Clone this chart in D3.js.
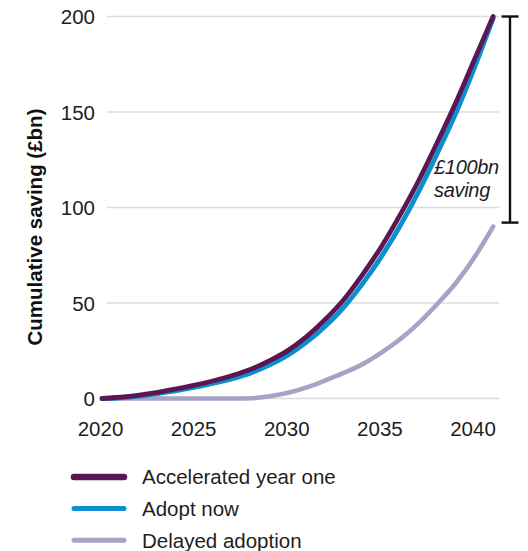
<!DOCTYPE html>
<html>
<head>
<meta charset="utf-8">
<script src="https://cdn.jsdelivr.net/npm/d3@7"></script>
<style>
  html, body { margin: 0; padding: 0; background: #fff; }
  svg { display: block; font-family: "Liberation Sans", Arial, Helvetica, sans-serif; }
</style>
</head>
<body>
<svg id="chart" width="528" height="551"></svg>
<script>
// Cumulative saving (£bn) by year under three adoption scenarios
const years = [2020, 2021, 2022, 2023, 2024, 2025, 2026, 2027, 2028, 2029, 2030,
               2031, 2032, 2033, 2034, 2035, 2036, 2037, 2038, 2039, 2040, 2041];
const acceleratedYearOne = [0, 0.7, 1.8, 3.2, 5, 7, 9.3, 12, 15.3, 19.8, 25.2,
                            32.5, 41.5, 52, 65, 79.5, 96, 114, 134, 155, 177.5, 200];
const adoptNow = [0, 0.4, 1.3, 2.6, 4.1, 5.9, 8, 10.4, 13.4, 17.6, 22.8,
                  29.6, 38, 48, 60.3, 74.3, 90.3, 108.3, 128.3, 149.5, 173.3, 199];
const delayedAdoption = [0, 0, 0, 0, 0, 0, 0, 0, 0.1, 1.2, 3,
                         5.8, 9.5, 13.5, 18, 24, 31, 39.5, 49.5, 60.5, 74, 90];

const seriesNames = ["Accelerated year one", "Adopt now", "Delayed adoption"];
const seriesColors = ["#5b1752", "#0a90d0", "#a6a3c5"];
const yTicks = [0, 50, 100, 150, 200];
const xTicks = [2020, 2025, 2030, 2035, 2040];
const axisTitle = "Cumulative saving (£bn)";
const bracketLabel = ["£100bn", "saving"];

const svg = d3.select("#chart");
const textColor = "#1e1e1e";

const x = d3.scaleLinear().domain([2020, 2040]).range([102, 474.5]);
const y = d3.scaleLinear().domain([0, 200]).range([398.5, 16.5]);

// Horizontal gridlines
svg.append("g")
  .selectAll("line")
  .data(yTicks)
  .join("line")
  .attr("x1", x(2020) + 5)
  .attr("x2", x(2041) + 6)
  .attr("y1", d => y(d))
  .attr("y2", d => y(d))
  .attr("stroke", "#dcdcdc")
  .attr("stroke-width", 1.5);

// Y axis tick labels
const yAxis = d3.axisLeft(y).tickValues(yTicks).tickSize(0).tickPadding(0);
const gy = svg.append("g").attr("transform", `translate(95,0)`).call(yAxis);
gy.select(".domain").remove();
gy.selectAll("text")
  .attr("font-size", 20.5)
  .attr("fill", textColor)
  .attr("font-family", "'Liberation Sans', Arial, sans-serif")
  .attr("dy", "0.36em");

// X axis tick labels
const xAxis = d3.axisBottom(x).tickValues(xTicks).tickFormat(d3.format("d")).tickSize(0).tickPadding(0);
const gx = svg.append("g").attr("transform", `translate(-2,${y(0)})`).call(xAxis);
gx.select(".domain").remove();
gx.selectAll("text")
  .attr("font-size", 20.5)
  .attr("fill", textColor)
  .attr("font-family", "'Liberation Sans', Arial, sans-serif")
  .attr("y", 0)
  .attr("dy", "1.85em");

// Y axis title
svg.append("text")
  .attr("transform", `translate(42,${227}) rotate(-90)`)
  .attr("text-anchor", "middle")
  .attr("font-size", 20.5)
  .attr("font-weight", "bold")
  .attr("fill", "#111")
  .text(axisTitle);

// Series lines
const line = d3.line()
  .x((d, i) => x(years[i]))
  .y(d => y(d))
  .curve(d3.curveMonotoneX);

const series = [
  { name: seriesNames[2], values: delayedAdoption, color: seriesColors[2], width: 4.6 },
  { name: seriesNames[1], values: adoptNow, color: seriesColors[1], width: 4.8 },
  { name: seriesNames[0], values: acceleratedYearOne, color: seriesColors[0], width: 4.8 }
];

svg.append("g")
  .selectAll("path")
  .data(series)
  .join("path")
  .attr("d", d => line(d.values))
  .attr("fill", "none")
  .attr("stroke", d => d.color)
  .attr("stroke-width", d => d.width)
  .attr("stroke-linecap", "round")
  .attr("stroke-linejoin", "round");

// Bracket showing the gap between accelerated and delayed scenarios at the end
const bx = 510;
const bTop = y(acceleratedYearOne[acceleratedYearOne.length - 1]);
const bBot = y(delayedAdoption[delayedAdoption.length - 1]) - 4;
const bracket = svg.append("g").attr("stroke", "#111").attr("stroke-width", 2.4);
bracket.append("line").attr("x1", bx).attr("x2", bx).attr("y1", bTop).attr("y2", bBot);
bracket.append("line").attr("x1", bx - 8.5).attr("x2", bx + 8.5).attr("y1", bTop).attr("y2", bTop);
bracket.append("line").attr("x1", bx - 8.5).attr("x2", bx + 8.5).attr("y1", bBot).attr("y2", bBot);

svg.append("g")
  .selectAll("text")
  .data(bracketLabel)
  .join("text")
  .attr("x", 434)
  .attr("y", (d, i) => 173.5 + i * 23.5)
  .attr("font-size", 20)
  .attr("font-style", "italic")
  .attr("fill", textColor)
  .attr("letter-spacing", "-0.3")
  .text(d => d);

// Legend
const legendItems = [
  { name: seriesNames[0], color: seriesColors[0], width: 6.5 },
  { name: seriesNames[1], color: seriesColors[1], width: 5 },
  { name: seriesNames[2], color: seriesColors[2], width: 5 }
];
const legend = svg.append("g").selectAll("g")
  .data(legendItems)
  .join("g")
  .attr("transform", (d, i) => `translate(0,${477 + i * 31.6})`);
legend.append("line")
  .attr("x1", 74).attr("x2", 124)
  .attr("y1", 0).attr("y2", 0)
  .attr("stroke", d => d.color)
  .attr("stroke-width", d => d.width)
  .attr("stroke-linecap", "round");
legend.append("text")
  .attr("x", 142)
  .attr("y", 0)
  .attr("dy", "0.36em")
  .attr("font-size", 20.5)
  .attr("fill", textColor)
  .text(d => d.name);
</script>
</body>
</html>
